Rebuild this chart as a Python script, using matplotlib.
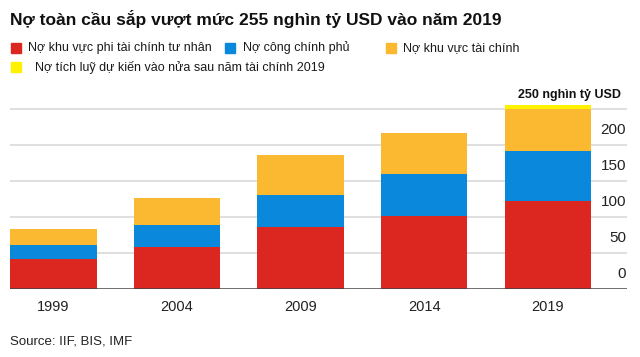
import matplotlib
matplotlib.use("Agg")
import matplotlib.pyplot as plt
import matplotlib.transforms as mtransforms
from matplotlib.patches import Rectangle

plt.rcParams['font.family'] = ['Liberation Sans', 'DejaVu Sans']

# Data (nghìn tỷ USD)
years = ['1999', '2004', '2009', '2014', '2019']
private_nonfin = [41, 58, 86, 101.5, 122]
government = [20, 30.5, 44.5, 58.5, 69]
financial = [23, 37.5, 55.5, 56, 59]
projected = [0, 0, 0, 0, 5]

series_names = ['Nợ khu vực phi tài chính tư nhân', 'Nợ công chính phủ',
                'Nợ khu vực tài chính', 'Nợ tích luỹ dự kiến vào nửa sau năm tài chính 2019']
colors = ['#dc2720', '#0a88dc', '#fbb931', '#fff200']
ytick_vals = [0, 50, 100, 150, 200]

W, H = 640, 357
fig = plt.figure(figsize=(6.4, 3.57), dpi=100)
ax = fig.add_axes([10 / W, (H - 289) / H, (627 - 10) / W, (289 - 100) / H])

x = list(range(len(years)))
bottom = [0] * len(years)
for vals, c in zip([private_nonfin, government, financial, projected], colors):
    ax.bar(x, vals, width=0.70, bottom=bottom, color=c, zorder=2)
    bottom = [b + v for b, v in zip(bottom, vals)]

ax.set_xlim(-0.35, 4.64)
ax.set_ylim(0, 262.5)

# gridlines
for v in ytick_vals[1:] + [250]:
    ax.axhline(v, color='#dcdcdc', lw=1.3, zorder=1)
ax.axhline(0, color='#444444', lw=1.8, zorder=3)

for s in ax.spines.values():
    s.set_visible(False)
ax.set_yticks([])
ax.set_xticks(x)
ax.set_xticklabels(years, fontsize=10.5, color='#222222')
ax.tick_params(axis='x', length=0, pad=8)

# y tick labels sitting above gridlines on the right
trans = mtransforms.blended_transform_factory(ax.transAxes, ax.transData)
off = mtransforms.offset_copy(trans, fig=fig, x=-1, y=8, units='dots')
for v in ytick_vals:
    ax.text(1.0, v, str(v), transform=off, ha='right', va='bottom',
            fontsize=11, color='#222222')
off2 = mtransforms.offset_copy(trans, fig=fig, x=-6, y=8, units='dots')
ax.text(1.0, 250, '250 nghìn tỷ USD', transform=off2, ha='right', va='bottom',
        fontsize=9, fontweight='bold', color='#111111')

# title
fig.text(10 / W, 1 - 19 / H, 'Nợ toàn cầu sắp vượt mức 255 nghìn tỷ USD vào năm 2019',
         ha='left', va='center', fontsize=12.5, fontweight='bold', color='#111111')

# legend
legend_items = [(11, 48, 28), (225, 48, 243), (386, 48, 403), (11, 67, 35)]
for (sx, ly, tx), name, c in zip(legend_items, series_names, colors):
    fig.patches.append(Rectangle((sx / W, 1 - (ly + 5) / H), 10 / W, 10 / H,
                                 transform=fig.transFigure, color=c, figure=fig))
    fig.text(tx / W, 1 - ly / H, name, ha='left', va='center', fontsize=9,
             color='#1a1a1a')

fig.text(10 / W, 1 - 342 / H, 'Source: IIF, BIS, IMF', ha='left', va='center',
         fontsize=9.5, color='#222222')

fig.savefig('out.png', dpi=100)
